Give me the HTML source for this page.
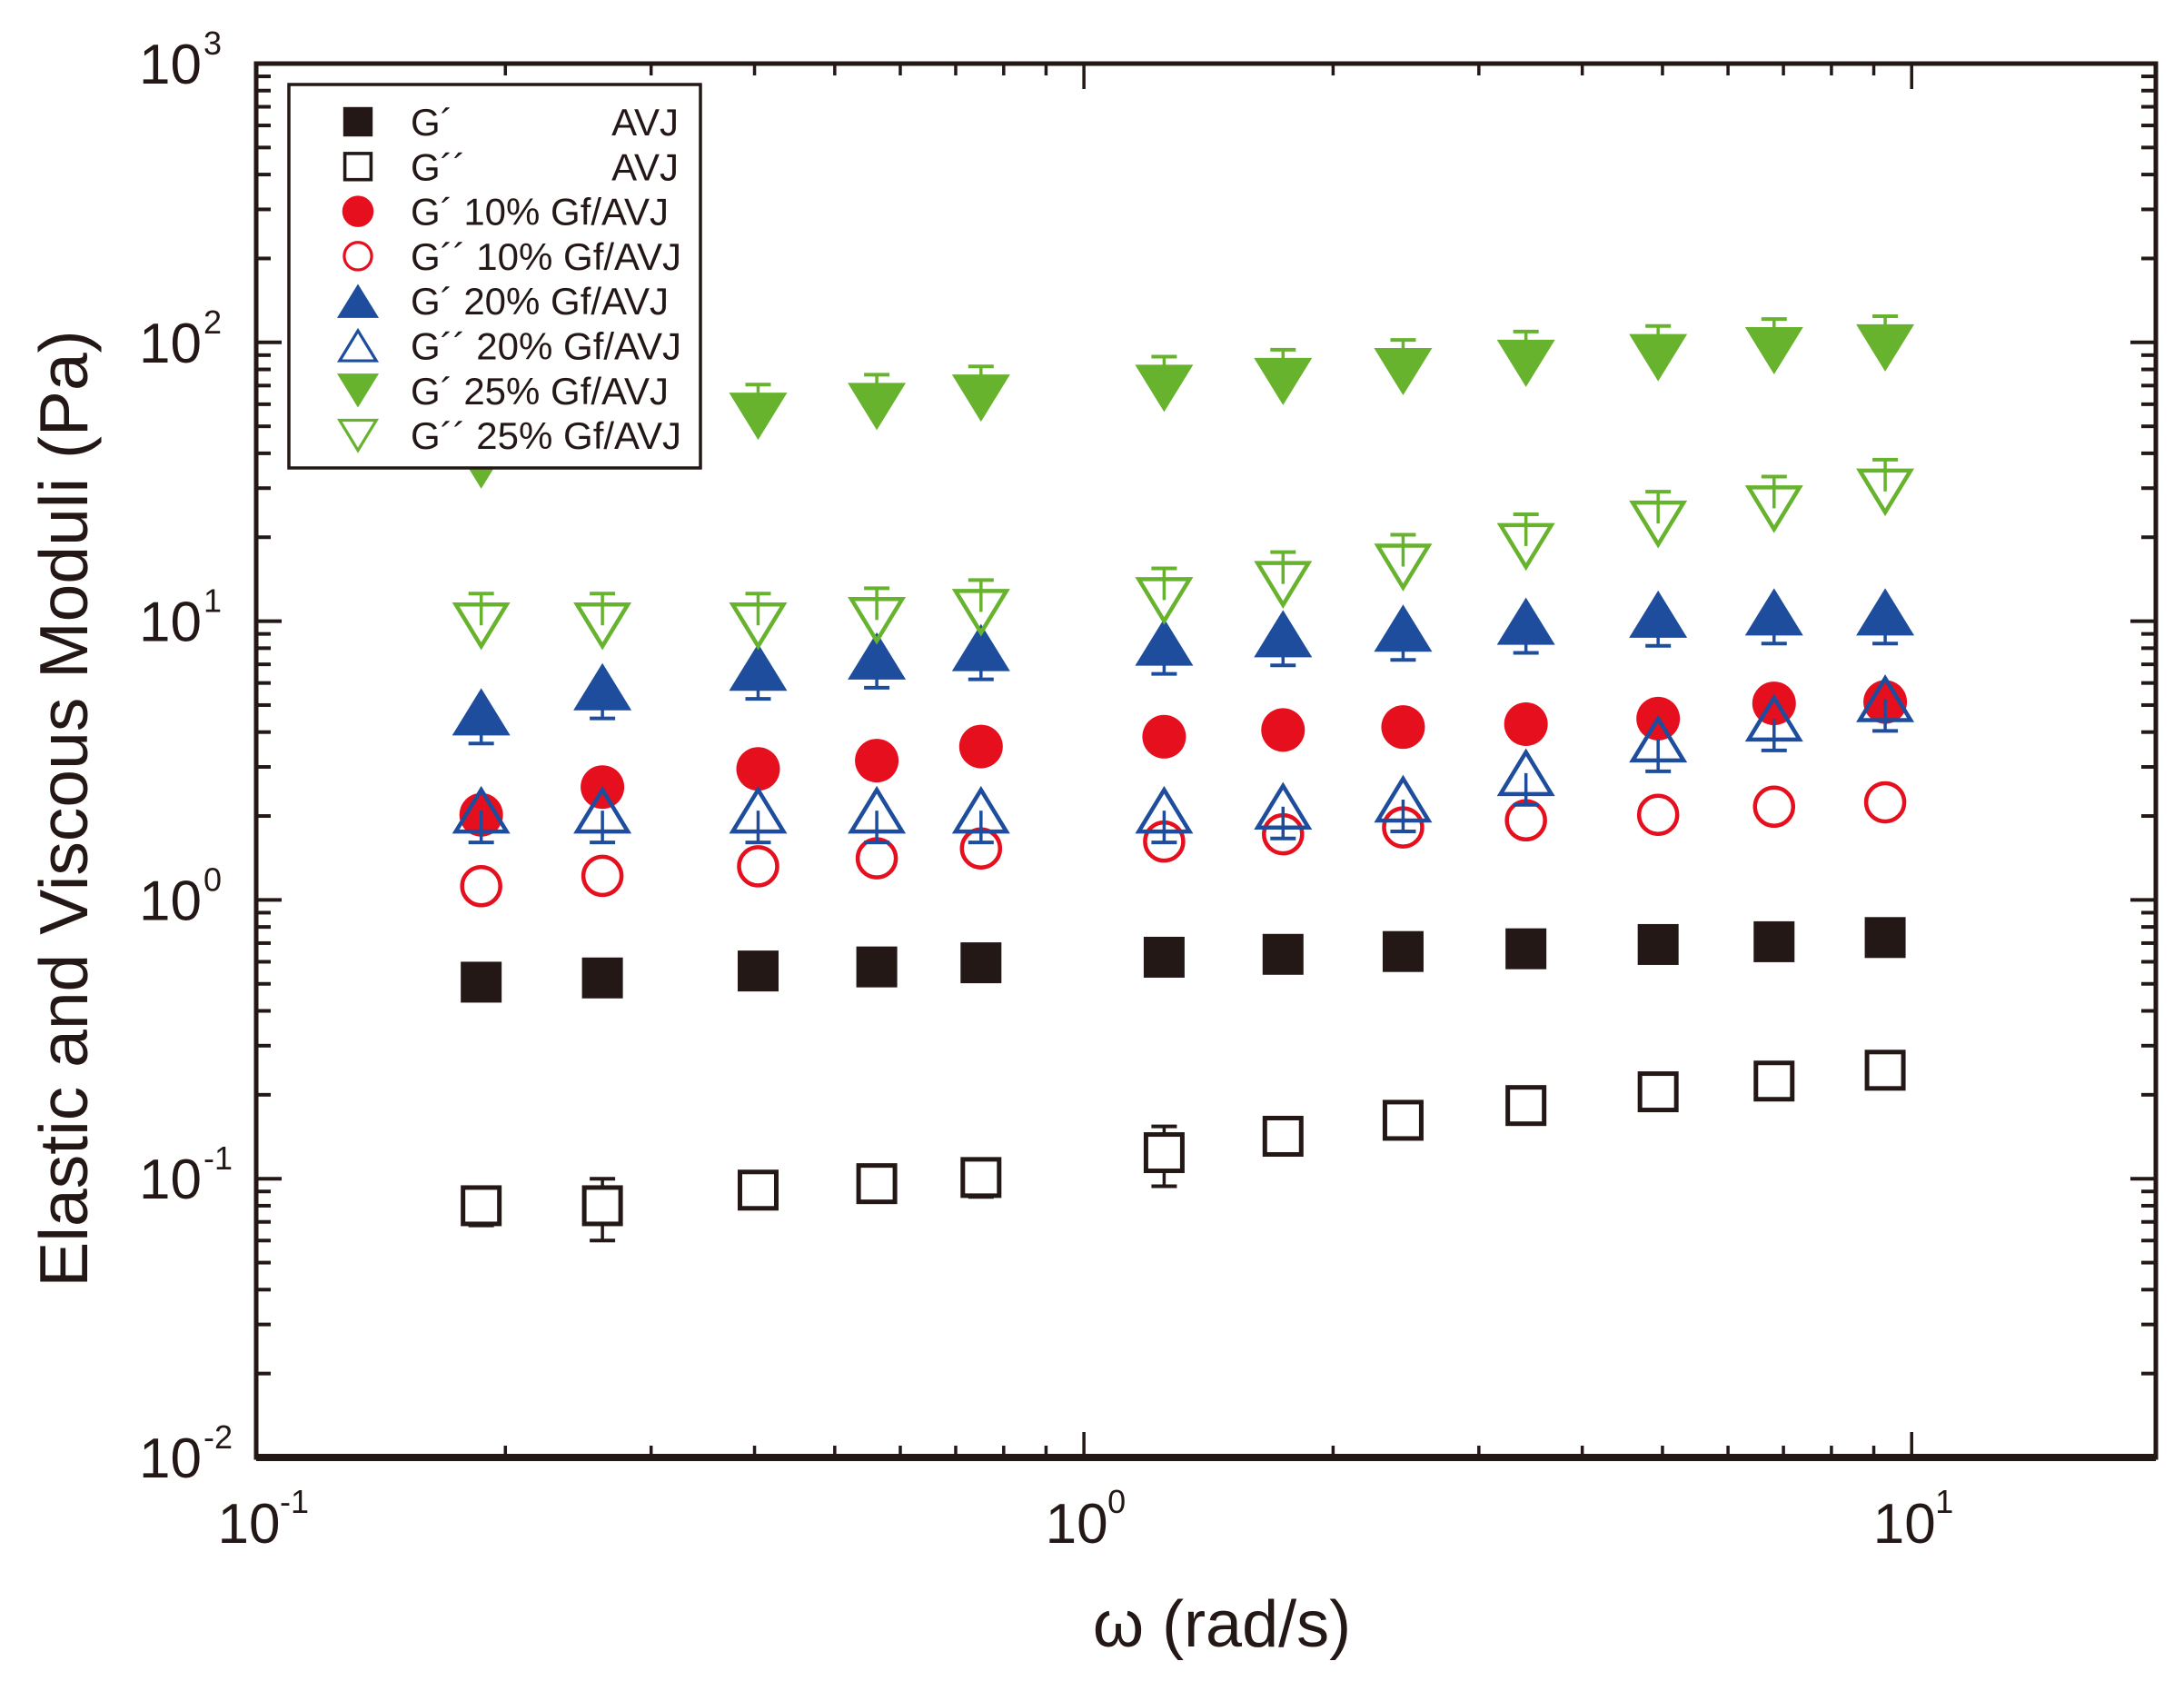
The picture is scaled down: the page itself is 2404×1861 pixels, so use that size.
<!DOCTYPE html>
<html><head><meta charset="utf-8"><style>
html,body{margin:0;padding:0;background:#fff;}
svg{display:block;}
text{font-family:"Liberation Sans",Arial,sans-serif;fill:#231815;}
</style></head><body>
<svg id="chart" width="2404" height="1861" viewBox="0 0 2404 1861" xmlns="http://www.w3.org/2000/svg">
<g id="marks"></g>
<g id="axes"></g>
<g id="legend"></g>
</svg>
<script>
const omega = [0.187,0.262,0.404,0.562,0.751,1.25,1.74,2.43,3.42,4.94,6.82,9.29];
const gpAVJ = [0.507,0.525,0.556,0.575,0.595,0.623,0.638,0.653,0.668,0.692,0.708,0.733];
const gppAVJ = [0.080,0.080,0.091,0.096,0.101,0.124,0.142,0.162,0.183,0.205,0.224,0.245];
const gp10 = [2.02,2.54,2.95,3.16,3.55,3.85,4.07,4.17,4.27,4.47,5.07,5.13];
const gpp10 = [1.12,1.22,1.32,1.41,1.53,1.62,1.72,1.82,1.93,2.02,2.16,2.24];
const gp20 = [4.73,5.82,6.84,7.50,8.04,8.41,9.02,9.44,10.0,10.6,10.8,10.8];
const gpp20 = [2.09,2.09,2.09,2.09,2.09,2.09,2.16,2.29,2.85,3.76,4.47,5.25];
const gp25 = [36.3,43.0,54.3,58.9,63.1,68.4,72.4,78.5,84.1,88.1,93.3,95.5];
const gpp25 = [9.66,9.66,9.66,10.1,10.8,11.9,13.6,15.7,18.6,22.4,25.4,29.2];
const errFrac = [0.3,0.3,0.3,0.3,0.3,0.3,0.3,0.3,0.3,0.3,0.3,0.3];
const gppAVJErr = [0.012,0.02,0.01,0.01,0.015,0.03,0.02,0.02,0.02,0.02,0.015,0.02];
const xTicks = [-1,0,1];
const yTicks = [-2,-1,0,1,2,3];
const legendLabels = ["G\u00B4","G\u00B4\u00B4","G\u00B4  10% Gf/AVJ","G\u00B4\u00B4 10% Gf/AVJ","G\u00B4  20% Gf/AVJ","G\u00B4\u00B4 20% Gf/AVJ","G\u00B4  25% Gf/AVJ","G\u00B4\u00B4 25% Gf/AVJ"];

const NS="http://www.w3.org/2000/svg";
const L=282,R=2373,T=70,B=1604;
const xmin=-1,xmax=1.295,ymin=-2,ymax=3;
function X(v){return L+(Math.log10(v)-xmin)/(xmax-xmin)*(R-L);}
function Y(v){return B-(Math.log10(v)-ymin)/(ymax-ymin)*(B-T);}
function el(tag,attrs,parent){const e=document.createElementNS(NS,tag);for(const k in attrs)e.setAttribute(k,attrs[k]);parent.appendChild(e);return e;}
const marks=document.getElementById('marks'),axes=document.getElementById('axes'),leg=document.getElementById('legend');
const BLK="#231815",RED="#e60f1e",BLUE="#1d4d9c",GREEN="#67b32e";

function marker(type,cx,cy,color,filled,parent){
  const sw=4.5;let e;
  if(type==='square'){const s=filled?45:40;e=el('rect',{x:cx-s/2,y:cy-s/2,width:s,height:s,fill:filled?color:"#fff","stroke":filled?"none":color,"stroke-width":5},parent);}
  else if(type==='circle'){e=el('circle',{cx:cx,cy:cy,r:filled?24:21,fill:filled?color:"none",stroke:filled?"none":color,"stroke-width":sw},parent);}
  else if(type==='up'){const w=filled?32:28,h=filled?52:46;e=el('polygon',{points:`${cx-w},${cy+h/2} ${cx+w},${cy+h/2} ${cx},${cy-h/2}`,fill:filled?color:"none",stroke:filled?"none":color,"stroke-width":sw},parent);}
  else {const w=filled?32:28,h=filled?52:46;e=el('polygon',{points:`${cx-w},${cy-h/2} ${cx+w},${cy-h/2} ${cx},${cy+h/2}`,fill:filled?color:"none",stroke:filled?"none":color,"stroke-width":sw},parent);}
  return e;
}
const series=[
 {name:'gp-avj',vals:gpAVJ,type:'square',color:BLK,filled:true,dir:0},
 {name:'gpp-avj',vals:gppAVJ,type:'square',color:BLK,filled:false,dir:2},
 {name:'gp-10',vals:gp10,type:'circle',color:RED,filled:true,dir:0},
 {name:'gpp-10',vals:gpp10,type:'circle',color:RED,filled:false,dir:0},
 {name:'gp-20',vals:gp20,type:'up',color:BLUE,filled:true,dir:-1},
 {name:'gpp-20',vals:gpp20,type:'up',color:BLUE,filled:false,dir:-1},
 {name:'gp-25',vals:gp25,type:'down',color:GREEN,filled:true,dir:1},
 {name:'gpp-25',vals:gpp25,type:'down',color:GREEN,filled:false,dir:1}
];
series.forEach(s=>{
  const g=el('g',{},marks);
  
  
  s.vals.forEach((v,i)=>{
    const cx=X(omega[i]),cy=Y(v);
    if(s.dir!==0){
      const bc=s.color;
      let ends=[];
      if(s.dir===2){ends=[Y(v+gppAVJErr[i]),Y(v-gppAVJErr[i])];}
      else if(s.dir===1){ends=[Y(v*(1+errFrac[i]))];}
      else {ends=[Y(v/(1+errFrac[i]))];}
      ends.forEach(ye=>{
        el('line',{x1:cx,y1:cy,x2:cx,y2:ye,stroke:bc,"stroke-width":3.5},g);
        el('line',{x1:cx-14,y1:ye,x2:cx+14,y2:ye,stroke:bc,"stroke-width":4},g);
      });
    }
    const m=marker(s.type,cx,cy,s.color,s.filled,g);
    
    
  });
});

const frame=el('rect',{x:L,y:T,width:R-L,height:B-T,fill:"none",stroke:BLK,"stroke-width":5},axes);


el('line',{x1:L,y1:B,x2:R,y2:B,stroke:BLK,"stroke-width":8},axes);
for(let d=-1;d<=1;d++){
  for(let k=1;k<=9;k++){
    const v=k*Math.pow(10,d);
    if(Math.log10(v)<xmin-1e-9||Math.log10(v)>xmax)continue;
    const x=X(v),len=k===1?28:13;
    el('line',{x1:x,y1:B,x2:x,y2:B-len,stroke:BLK,"stroke-width":3.5},axes);
    el('line',{x1:x,y1:T,x2:x,y2:T+len,stroke:BLK,"stroke-width":3.5},axes);
  }
}
for(let d=-2;d<=2;d++){
  for(let k=1;k<=9;k++){
    const v=k*Math.pow(10,d);const y=Y(v);const len=k===1?28:16;
    el('line',{x1:L,y1:y,x2:L+len,y2:y,stroke:BLK,"stroke-width":4},axes);
    el('line',{x1:R,y1:y,x2:R-len,y2:y,stroke:BLK,"stroke-width":4},axes);
  }
}
xTicks.forEach(p=>{
  const t=el('text',{x:X(Math.pow(10,p))-8,y:1698,"font-size":62,"text-anchor":"middle"},axes);
  
  
  t.textContent="10";
  const s=el('text',{x:X(Math.pow(10,p))+26,y:1665,"font-size":36},axes);
  s.textContent=String(p);
});
yTicks.forEach(p=>{
  const y=Y(Math.pow(10,p));
  const t=el('text',{x:222,y:y+22,"font-size":62,"text-anchor":"end"},axes);
  
  
  t.textContent="10";
  const s=el('text',{x:224,y:y-10,"font-size":36},axes);
  s.textContent=String(p);
});
const xt=el('text',{x:1345,y:1812,"font-size":72,"text-anchor":"middle"},axes);


xt.textContent="\u03C9 (rad/s)";
const yt=el('text',{x:0,y:0,"font-size":75,"text-anchor":"middle",transform:"translate(96,890) rotate(-90)"},axes);


yt.textContent="Elastic and Viscous Moduli (Pa)";

const lb=el('rect',{x:318,y:93,width:453,height:422,fill:"#fff",stroke:BLK,"stroke-width":3.5},leg);


series.forEach((s,i)=>{
  const cy=134+i*49.3;
  const g=el('g',{},leg);
  
  
  const mg=el('g',{transform:`translate(394,${cy}) scale(0.72)`},g);
  marker(s.type,0,0,s.color,s.filled,mg);
  const t=el('text',{x:452,y:cy+15,"font-size":42,"xml:space":"preserve"},g);
  t.textContent=legendLabels[i];
  if(i<2){const a=el('text',{x:747,y:cy+15,"font-size":42,"text-anchor":"end"},g);a.textContent="AVJ";}
});
</script>
</body></html>
